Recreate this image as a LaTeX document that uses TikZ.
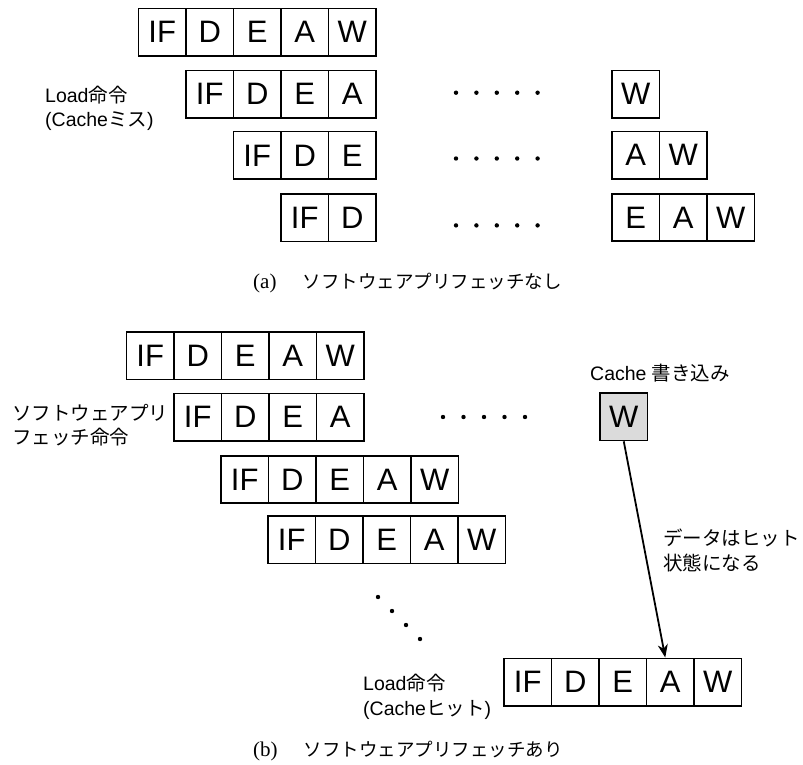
\documentclass[tikz,border=0pt]{standalone}
\usepackage{fontspec}
\setmainfont{Liberation Sans}
\newfontfamily\jp{Noto Sans CJK JP}
\newfontfamily\capserif{Liberation Serif}
\usetikzlibrary{arrows.meta,calc}
\tikzset{
  cell/.style={draw, line width=1.6pt, minimum width=47.5pt, minimum height=47.5pt,
    inner sep=0pt, font=\fontsize{31}{31}\selectfont},
  graycell/.style={cell, fill=black!14},
  lbl/.style={anchor=west, inner sep=0pt, align=left, font=\fontsize{19.5}{24.5}\selectfont},
  captext/.style={anchor=west, inner sep=0pt, font=\fontsize{18.5}{20}\selectfont},
  conn/.style={line width=1.8pt, -{Stealth[length=13pt,width=10pt,inset=4pt]}}
}
\newcommand\cellrow[4]{%
  \foreach \lab [count=\i from 0] in {#4} {
    \node[cell] (#1-\i) at ({#2+47.5*\i+23.75},{#3+23.75}) {\lab};
  }%
}
\begin{document}
\begin{tikzpicture}[x=1pt,y=-1pt]
\useasboundingbox (0,0) rectangle (803,765);
% (a)
\cellrow{a1}{138.5}{8.5}{IF,D,E,A,W}
\cellrow{a2}{186}{70.5}{IF,D,E,A}
\cellrow{a3}{233.5}{131.7}{IF,D,E}
\cellrow{a4}{281}{194}{IF,D}
\cellrow{a5}{612}{70.5}{W}
\cellrow{a6}{612}{131.5}{A,W}
\cellrow{a7}{612}{193.7}{E,A,W}
\foreach \y in {92.7,158.5,225.4}
  \foreach \k in {0,...,4}
    \fill ({456+20.4*\k},\y) circle (2.2pt);
\node[lbl] (la) at (45,108.3) {Load{\jp 命令}\\(Cache{\jp ミス})};
\node[captext] (ca) at (253,283) {{\capserif\fontsize{21}{21}\selectfont (a)}\hspace{26pt}{\jp ソフトウェアプリフェッチなし}};
% (b)
\cellrow{b1}{126.5}{332}{IF,D,E,A,W}
\cellrow{b2}{174}{393.5}{IF,D,E,A}
\cellrow{b3}{221}{455.7}{IF,D,E,A,W}
\cellrow{b4}{268}{516}{IF,D,E,A,W}
\cellrow{b5}{504}{658.3}{IF,D,E,A,W}
\node[graycell] (wc) at (623.75,416.75) {W};
\foreach \k in {0,...,4}
  \fill ({443+20.5*\k},417) circle (2.2pt);
\foreach \k in {0,...,3}
  \fill ({378+14*\k},{597+14*\k}) circle (2.2pt);
\draw[conn] (wc.south) -- ([xshift=-5pt]b5-3.north);
\node[lbl] (lb) at (12,425) {{\jp ソフトウェアプリ}\\{\jp フェッチ命令}};
\node[lbl] (lc) at (590,373) {Cache {\jp 書き込み}};
\node[lbl] (ld) at (663,550.5) {{\jp データはヒット}\\{\jp 状態になる}};
\node[lbl] (le) at (363,697) {Load{\jp 命令}\\(Cache{\jp ヒット})};
\node[captext] (cb) at (253,751) {{\capserif\fontsize{21}{21}\selectfont (b)}\hspace{26pt}{\jp ソフトウェアプリフェッチあり}};
\end{tikzpicture}
\end{document}
